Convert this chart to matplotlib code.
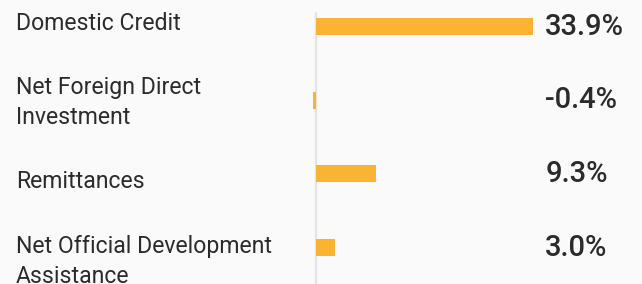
import numpy as np
import matplotlib.pyplot as plt
from matplotlib.transforms import blended_transform_factory

categories = ["Domestic Credit", "Net Foreign Direct\nInvestment",
              "Remittances", "Net Official Development\nAssistance"]
values = [33.9, -0.4, 9.3, 3.0]
value_labels = ["33.9%", "-0.4%", "9.3%", "3.0%"]

# small nudges so the category text sits like the original layout
label_dy = [-0.04, 0.03, 0.1, 0.19]

bar_color = "#fbb431"
text_color = "#2b2b2b"
bg = "#fafafa"

plt.rcParams['font.family'] = ['Roboto', 'DejaVu Sans']

fig = plt.figure(figsize=(6.42, 2.84), dpi=100, facecolor=bg)
ax = fig.add_axes([300 / 642, 0, 342 / 642, 1])
ax.set_facecolor(bg)

y = np.arange(len(categories))
ax.barh(y, values, height=0.23, color=bar_color, zorder=2)
ax.vlines(0, -0.2, 3.6, color="#e4e4e4", lw=1.6, zorder=1)

for i, lab in enumerate(value_labels):
    ax.text(35.8, y[i], lab, ha="left", va="center", fontsize=21,
            fontweight="medium", color=text_color)

trans = blended_transform_factory(fig.transFigure, ax.transData)
for i, cat in enumerate(categories):
    ax.text(16 / 642, y[i] + label_dy[i], cat, transform=trans, ha="left", va="center",
            fontsize=16.6, color=text_color, linespacing=1.4)

ax.set_xlim(-2.5, 50.9)
ax.set_ylim(3.495, -0.36)
ax.axis("off")

fig.savefig("out.png", dpi=100, facecolor=bg)
